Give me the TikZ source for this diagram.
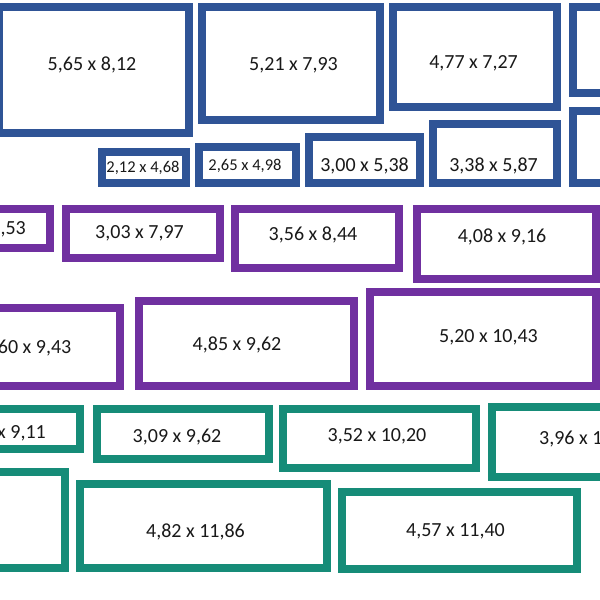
\documentclass[tikz,border=0pt]{standalone}
\usepackage{fontspec}
\setmainfont{Carlito}
\usepackage{xcolor}
\definecolor{frameblue}{RGB}{47,84,150}
\definecolor{framepurple}{RGB}{112,48,160}
\definecolor{framegreen}{RGB}{22,140,120}

\begin{document}
\begin{tikzpicture}[x=1pt, y=-1pt,
    frm/.style={line width=8pt, fill=white},
    lbl/.style={inner sep=0pt, text=black!90, font=\fontsize{20}{24}\selectfont},
    slbl/.style={inner sep=0pt, text=black!90, font=\fontsize{16.5}{20}\selectfont}]
    \useasboundingbox (0,0) rectangle (600,600);
    \clip (0,0) rectangle (600,600);

    % Blue frames
    \foreach \xa/\ya/\xb/\yb in {-1/7/189/133, 202/7/380/120, 393/7/557/107, 573/7/640/93,
        573/111/640/183, 102/152/186/183, 199/147/296/183, 309/137/420/183, 433/124/557/183} {
        \draw[frm, draw=frameblue] (\xa,\ya) rectangle (\xb,\yb);
    }
    \node[lbl] (b1) at (92,65) {5,65 x 8,12};
    \node[lbl] (b2) at (293.5,65) {5,21 x 7,93};
    \node[lbl] (b3) at (473.5,63) {4,77 x 7,27};
    \node[slbl] (b4) at (143,168) {2,12 x 4,68};
    \node[slbl] (b5) at (245,166) {2,65 x 4,98};
    \node[lbl] (b6) at (364.5,166) {3,00 x 5,38};
    \node[lbl] (b7) at (493.5,166) {3,38 x 5,87};

    % Purple frames
    \foreach \xa/\ya/\xb/\yb in {-20/209/50/248, 66/209/220/258, 235/209/399/268, 417/209/596/279,
        -20/308/120/386, 139/301/354/386, 370/292/596/386} {
        \draw[frm, draw=framepurple] (\xa,\ya) rectangle (\xb,\yb);
    }
    \node[lbl, anchor=east] (p1) at (26,229) {,53};
    \node[lbl] (p2) at (139.5,233) {3,03 x 7,97};
    \node[lbl] (p3) at (313,235) {3,56 x 8,44};
    \node[lbl] (p4) at (502,237) {4,08 x 9,16};
    \node[lbl, anchor=east] (p5) at (71.5,348) {60 x 9,43};
    \node[lbl] (p6) at (237,345) {4,85 x 9,62};
    \node[lbl] (p7) at (488.5,337) {5,20 x 10,43};

    % Green frames
    \foreach \xa/\ya/\xb/\yb in {-20/409/80/449, 97/409/269/459, 283/409/476/468, 492/407/640/477,
        -20/472/65/568, 80/484/327/568, 342/492/577/569} {
        \draw[frm, draw=framegreen] (\xa,\ya) rectangle (\xb,\yb);
    }
    \node[lbl, anchor=east] (g1) at (46,433) {x 9,11};
    \node[lbl] (g2) at (177,437) {3,09 x 9,62};
    \node[lbl] (g3) at (377,436) {3,52 x 10,20};
    \node[lbl, anchor=west] (g4) at (539,439) {3,96 x 1};
    \node[lbl] (g6) at (195.5,532) {4,82 x 11,86};
    \node[lbl] (g7) at (455.5,531) {4,57 x 11,40};
\end{tikzpicture}
\end{document}
